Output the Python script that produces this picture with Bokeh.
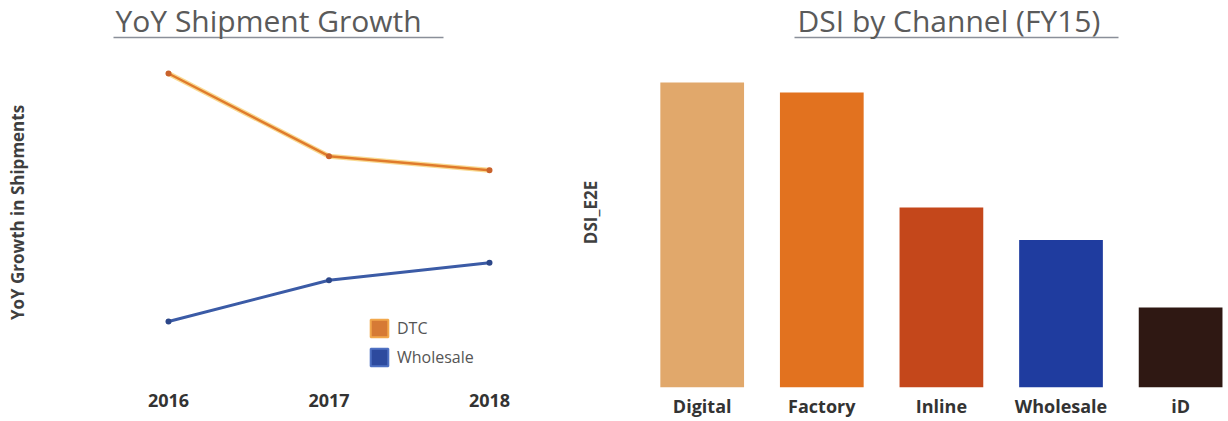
from bokeh.plotting import figure
from bokeh.layouts import row
from bokeh.models import Range1d, FixedTicker, Legend, LegendItem, LinearAxis
from bokeh.embed import file_html
from bokeh.resources import INLINE

# ---- data ----
YEARS = [2016, 2017, 2018]
YEAR_LABELS = ["2016", "2017", "2018"]
DTC = [30.0, 20.0, 18.3]
WHOLESALE = [0.0, 5.0, 7.1]

CHANNELS = ["Digital", "Factory", "Inline", "Wholesale", "iD"]
DSI = [122, 118, 72, 59, 32]

# ---- styles ----
FONT = "Open Sans"
TITLE_COLOR = "#5a5a5a"
TICK_COLOR = "#333333"
LABEL_COLOR = "#3f3f3f"
BAR_COLORS = ["#E1A86B", "#E2721F", "#C4471B", "#1F3C9F", "#2F1813"]
NAN = float("nan")


def style_axes(p):
    p.outline_line_color = None
    p.grid.visible = False
    for ax in (p.xaxis, p.yaxis):
        ax.axis_line_color = None
        ax.major_tick_line_color = None
        ax.minor_tick_line_color = None
        ax.major_tick_out = 0
        ax.major_tick_in = 0
        ax.minor_tick_out = 0
        ax.minor_tick_in = 0
    p.xaxis.major_label_text_font = FONT
    p.xaxis.major_label_text_font_style = "bold"
    p.xaxis.major_label_text_font_size = "18px"
    p.xaxis.major_label_text_color = TICK_COLOR
    p.xaxis.major_label_standoff = 6
    p.yaxis.ticker = FixedTicker(ticks=[])
    p.yaxis.axis_label_text_font = FONT
    p.yaxis.axis_label_text_font_style = "bold"
    p.yaxis.axis_label_text_font_size = "17px"
    p.yaxis.axis_label_text_color = LABEL_COLOR
    p.yaxis.axis_label_standoff = 8
    p.title.text_font = FONT
    p.title.text_font_size = "30px"
    p.title.text_font_style = "normal"
    p.title.text_color = TITLE_COLOR
    p.title.align = "left"
    p.title.standoff = -6


def underline(p, bounds):
    ax = LinearAxis(ticker=FixedTicker(ticks=[]), bounds=bounds,
                    axis_line_color="#8a8f99", axis_line_width=1.3,
                    major_tick_out=0, major_tick_in=0,
                    minor_tick_out=0, minor_tick_in=0,
                    major_label_text_font_size="0px")
    p.add_layout(ax, "above")


# ---- left: line chart ----
p1 = figure(width=575, height=420, output_backend="svg", toolbar_location=None,
            x_range=Range1d(2015.1776, 2018.4735), y_range=Range1d(-7.98, 34.355),
            min_border_left=36, min_border_right=10, min_border_top=0,
            min_border_bottom=0, title="YoY Shipment Growth")
style_axes(p1)
p1.title.offset = 79
p1.xaxis.ticker = FixedTicker(ticks=YEARS)
p1.xaxis.major_label_overrides = {y: l for y, l in zip(YEARS, YEAR_LABELS)}
p1.yaxis.axis_label = "YoY Growth in Shipments"
underline(p1, (2015.657, 2017.713))

p1.line(YEARS, DTC, line_color="#F5C24A", line_width=5, line_alpha=0.6)
p1.line(YEARS, DTC, line_color="#E07B2C", line_width=2.5)
p1.scatter(YEARS, DTC, size=6, fill_color="#C9622B", line_color=None)
p1.line(YEARS, WHOLESALE, line_color="#3B5BA6", line_width=3)
p1.scatter(YEARS, WHOLESALE, size=6, fill_color="#2C4789", line_color=None)

sw_dtc = p1.quad(left=[NAN], right=[NAN], top=[NAN], bottom=[NAN],
                 fill_color="#D67A35", line_color="#F2A84C", line_width=2)
sw_wh = p1.quad(left=[NAN], right=[NAN], top=[NAN], bottom=[NAN],
                fill_color="#2D4A9E", line_color="#4E70C2", line_width=2)
legend = Legend(items=[LegendItem(label="DTC", renderers=[sw_dtc], index=0),
                       LegendItem(label="Wholesale", renderers=[sw_wh], index=0)],
                location=(332, 19), border_line_color=None,
                background_fill_alpha=0, padding=0, margin=0, spacing=7,
                glyph_width=22, glyph_height=22, label_height=22,
                label_standoff=7, label_text_font=FONT,
                label_text_font_size="16px", label_text_color="#555555")
p1.add_layout(legend)

# ---- right: bar chart ----
p2 = figure(width=652, height=420, output_backend="svg", toolbar_location=None,
            x_range=Range1d(-0.775, 4.392), y_range=Range1d(0, 140),
            min_border_left=32, min_border_right=0, min_border_top=0,
            min_border_bottom=0, title="DSI by Channel (FY15)")
style_axes(p2)
p2.title.offset = 188
xs = list(range(len(CHANNELS)))
p2.xaxis.ticker = FixedTicker(ticks=xs)
p2.xaxis.major_label_overrides = {i: c for i, c in zip(xs, CHANNELS)}
p2.yaxis.axis_label = "DSI_E2E"
underline(p2, (0.775, 3.483))
p2.vbar(x=xs, top=DSI, width=0.7, fill_color=BAR_COLORS, line_color=None)

layout = row(p1, p2)
open("out.html", "w").write(file_html(layout, INLINE))
